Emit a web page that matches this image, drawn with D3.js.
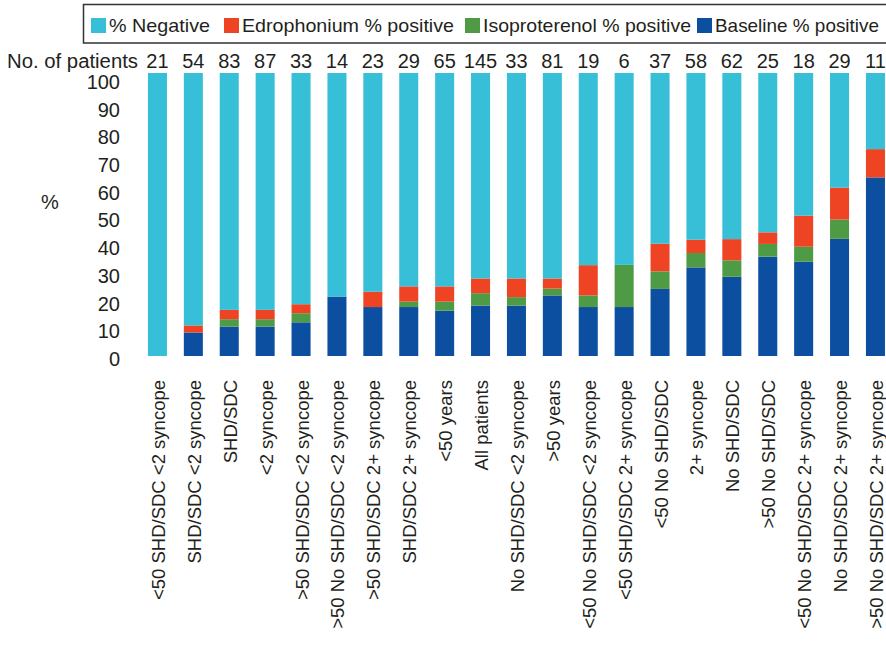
<!DOCTYPE html>
<html>
<head>
<meta charset="utf-8">
<script src="https://cdn.jsdelivr.net/npm/d3@7"></script>
<style>
  html, body { margin: 0; padding: 0; background: #fff; }
  svg { display: block; font-family: "Liberation Sans", Arial, sans-serif; }
  text { fill: #231f20; }
</style>
</head>
<body>
<svg id="chart" width="886" height="649"></svg>
<script>
// Patient subgroups, left to right
const categories = [
  "<50 SHD/SDC <2 syncope", "SHD/SDC <2 syncope", "SHD/SDC", "<2 syncope",
  ">50 SHD/SDC <2 syncope", ">50 No SHD/SDC <2 syncope", ">50 SHD/SDC 2+ syncope",
  "SHD/SDC 2+ syncope", "<50 years", "All patients", "No SHD/SDC <2 syncope",
  ">50 years", "<50 No SHD/SDC <2 syncope", "<50 SHD/SDC 2+ syncope",
  "<50 No SHD/SDC", "2+ syncope", "No SHD/SDC", ">50 No SHD/SDC",
  "<50 No SHD/SDC 2+ syncope", "No SHD/SDC 2+ syncope", ">50 No SHD/SDC 2+ syncope"
];
const patients = [21, 54, 83, 87, 33, 14, 23, 29, 65, 145, 33, 81, 19, 6, 37, 58, 62, 25, 18, 29, 11];

// Percentages per subgroup (stacked bottom to top)
const baseline      = [0, 8.3, 10.4, 10.4, 11.9, 21.0, 17.3, 17.3, 16.0, 17.8, 17.8, 21.4, 17.3, 17.3, 23.7, 31.3, 28.0, 35.1, 33.3, 41.4, 63.1];
const isoproterenol = [0, 0, 2.6, 2.6, 3.2, 0, 0, 1.9, 3.2, 4.4, 3.0, 2.4, 4.1, 14.9, 6.2, 5.1, 5.8, 4.5, 5.3, 6.8, 0];
const edrophonium   = [0, 2.5, 3.3, 3.3, 3.2, 0, 5.4, 5.4, 5.4, 5.2, 6.6, 3.6, 10.7, 0, 9.8, 4.7, 7.5, 4.1, 11.0, 11.3, 10.0];
const negative      = [100, 89.2, 83.7, 83.7, 81.7, 79.0, 77.3, 75.4, 75.4, 72.6, 72.6, 72.6, 67.9, 67.8, 60.3, 58.9, 58.7, 56.3, 50.4, 40.5, 26.9];

const yTicks = [0, 10, 20, 30, 40, 50, 60, 70, 80, 90, 100];

const series = [
  { key: "baseline",      label: "Baseline % positive",      color: "#0c4fa0" },
  { key: "isoproterenol", label: "Isoproterenol % positive", color: "#4f9b45" },
  { key: "edrophonium",   label: "Edrophonium % positive",   color: "#ee4424" },
  { key: "negative",      label: "% Negative",               color: "#36bfd6" }
];
const legendOrder = ["negative", "edrophonium", "isoproterenol", "baseline"];
// swatch position and text width for each legend entry
const legendX = { negative: 91, edrophonium: 224, isoproterenol: 465, baseline: 697 };
const legendW = { negative: 101, edrophonium: 212, isoproterenol: 208, baseline: 164 };

const table = categories.map((c, i) => ({
  category: c,
  baseline: baseline[i],
  isoproterenol: isoproterenol[i],
  edrophonium: edrophonium[i],
  negative: negative[i]
}));

const svg = d3.select("#chart");

const x = d3.scaleBand()
  .domain(categories)
  .range([139.5, 139.5 + 35.9 * categories.length])
  .paddingInner(0.47)
  .paddingOuter(0.235);

const y = d3.scaleLinear().domain([0, 100]).range([356, 73]);
// tick labels sit on a slightly tighter scale than the bars
const yLabel = d3.scaleLinear().domain([0, 100]).range([359, 82]);

const stacked = d3.stack().keys(series.map(s => s.key))(table);
const colorOf = Object.fromEntries(series.map(s => [s.key, s.color]));

svg.append("g")
  .selectAll("g")
  .data(stacked)
  .join("g")
  .attr("fill", d => colorOf[d.key])
  .selectAll("rect")
  .data(d => d)
  .join("rect")
  .attr("x", d => x(d.data.category))
  .attr("width", x.bandwidth())
  .attr("y", d => y(d[1]))
  .attr("height", d => Math.max(0, y(d[0]) - y(d[1])));

// y axis: labels only
const yAxis = svg.append("g")
  .attr("transform", "translate(120,0)")
  .call(d3.axisLeft(yLabel).tickValues(yTicks).tickSize(0).tickPadding(0));
yAxis.select(".domain").remove();
yAxis.selectAll("text")
  .attr("font-size", 20)
  .attr("font-family", "Liberation Sans, Arial, sans-serif")
  .attr("fill", "#231f20");

svg.append("text")
  .attr("x", 50).attr("y", 202)
  .attr("text-anchor", "middle")
  .attr("dominant-baseline", "central")
  .attr("font-size", 20)
  .text("%");

// patient counts
svg.append("text")
  .attr("x", 7).attr("y", 68)
  .attr("font-size", 20)
  .attr("textLength", 131)
  .attr("lengthAdjust", "spacingAndGlyphs")
  .text("No. of patients");

svg.append("g")
  .selectAll("text")
  .data(categories)
  .join("text")
  .attr("x", (c) => x(c) + x.bandwidth() / 2)
  .attr("y", 68)
  .attr("text-anchor", "middle")
  .attr("font-size", 20)
  .text((c, i) => patients[i]);

// category labels, rotated
svg.append("g")
  .selectAll("text")
  .data(categories)
  .join("text")
  .attr("transform", c => `translate(${x(c) + x.bandwidth() / 2 + 1},380) rotate(-90)`)
  .attr("text-anchor", "end")
  .attr("dy", "0.35em")
  .attr("font-size", 18.5)
  .text(c => c);

// legend
const legend = svg.append("g");
legend.append("rect")
  .attr("x", 83.5).attr("y", 4.5)
  .attr("width", 820).attr("height", 38.5)
  .attr("fill", "none")
  .attr("stroke", "#333")
  .attr("stroke-width", 1.5);

legendOrder.forEach(k => {
  const s = series.find(d => d.key === k);
  legend.append("rect")
    .attr("x", legendX[k]).attr("y", 18)
    .attr("width", 15).attr("height", 15)
    .attr("fill", s.color);
  legend.append("text")
    .attr("x", legendX[k] + 18).attr("y", 25.5)
    .attr("dominant-baseline", "central")
    .attr("font-size", 19)
    .attr("textLength", legendW[k])
    .attr("lengthAdjust", "spacingAndGlyphs")
    .text(s.label);
});
</script>
</body>
</html>
